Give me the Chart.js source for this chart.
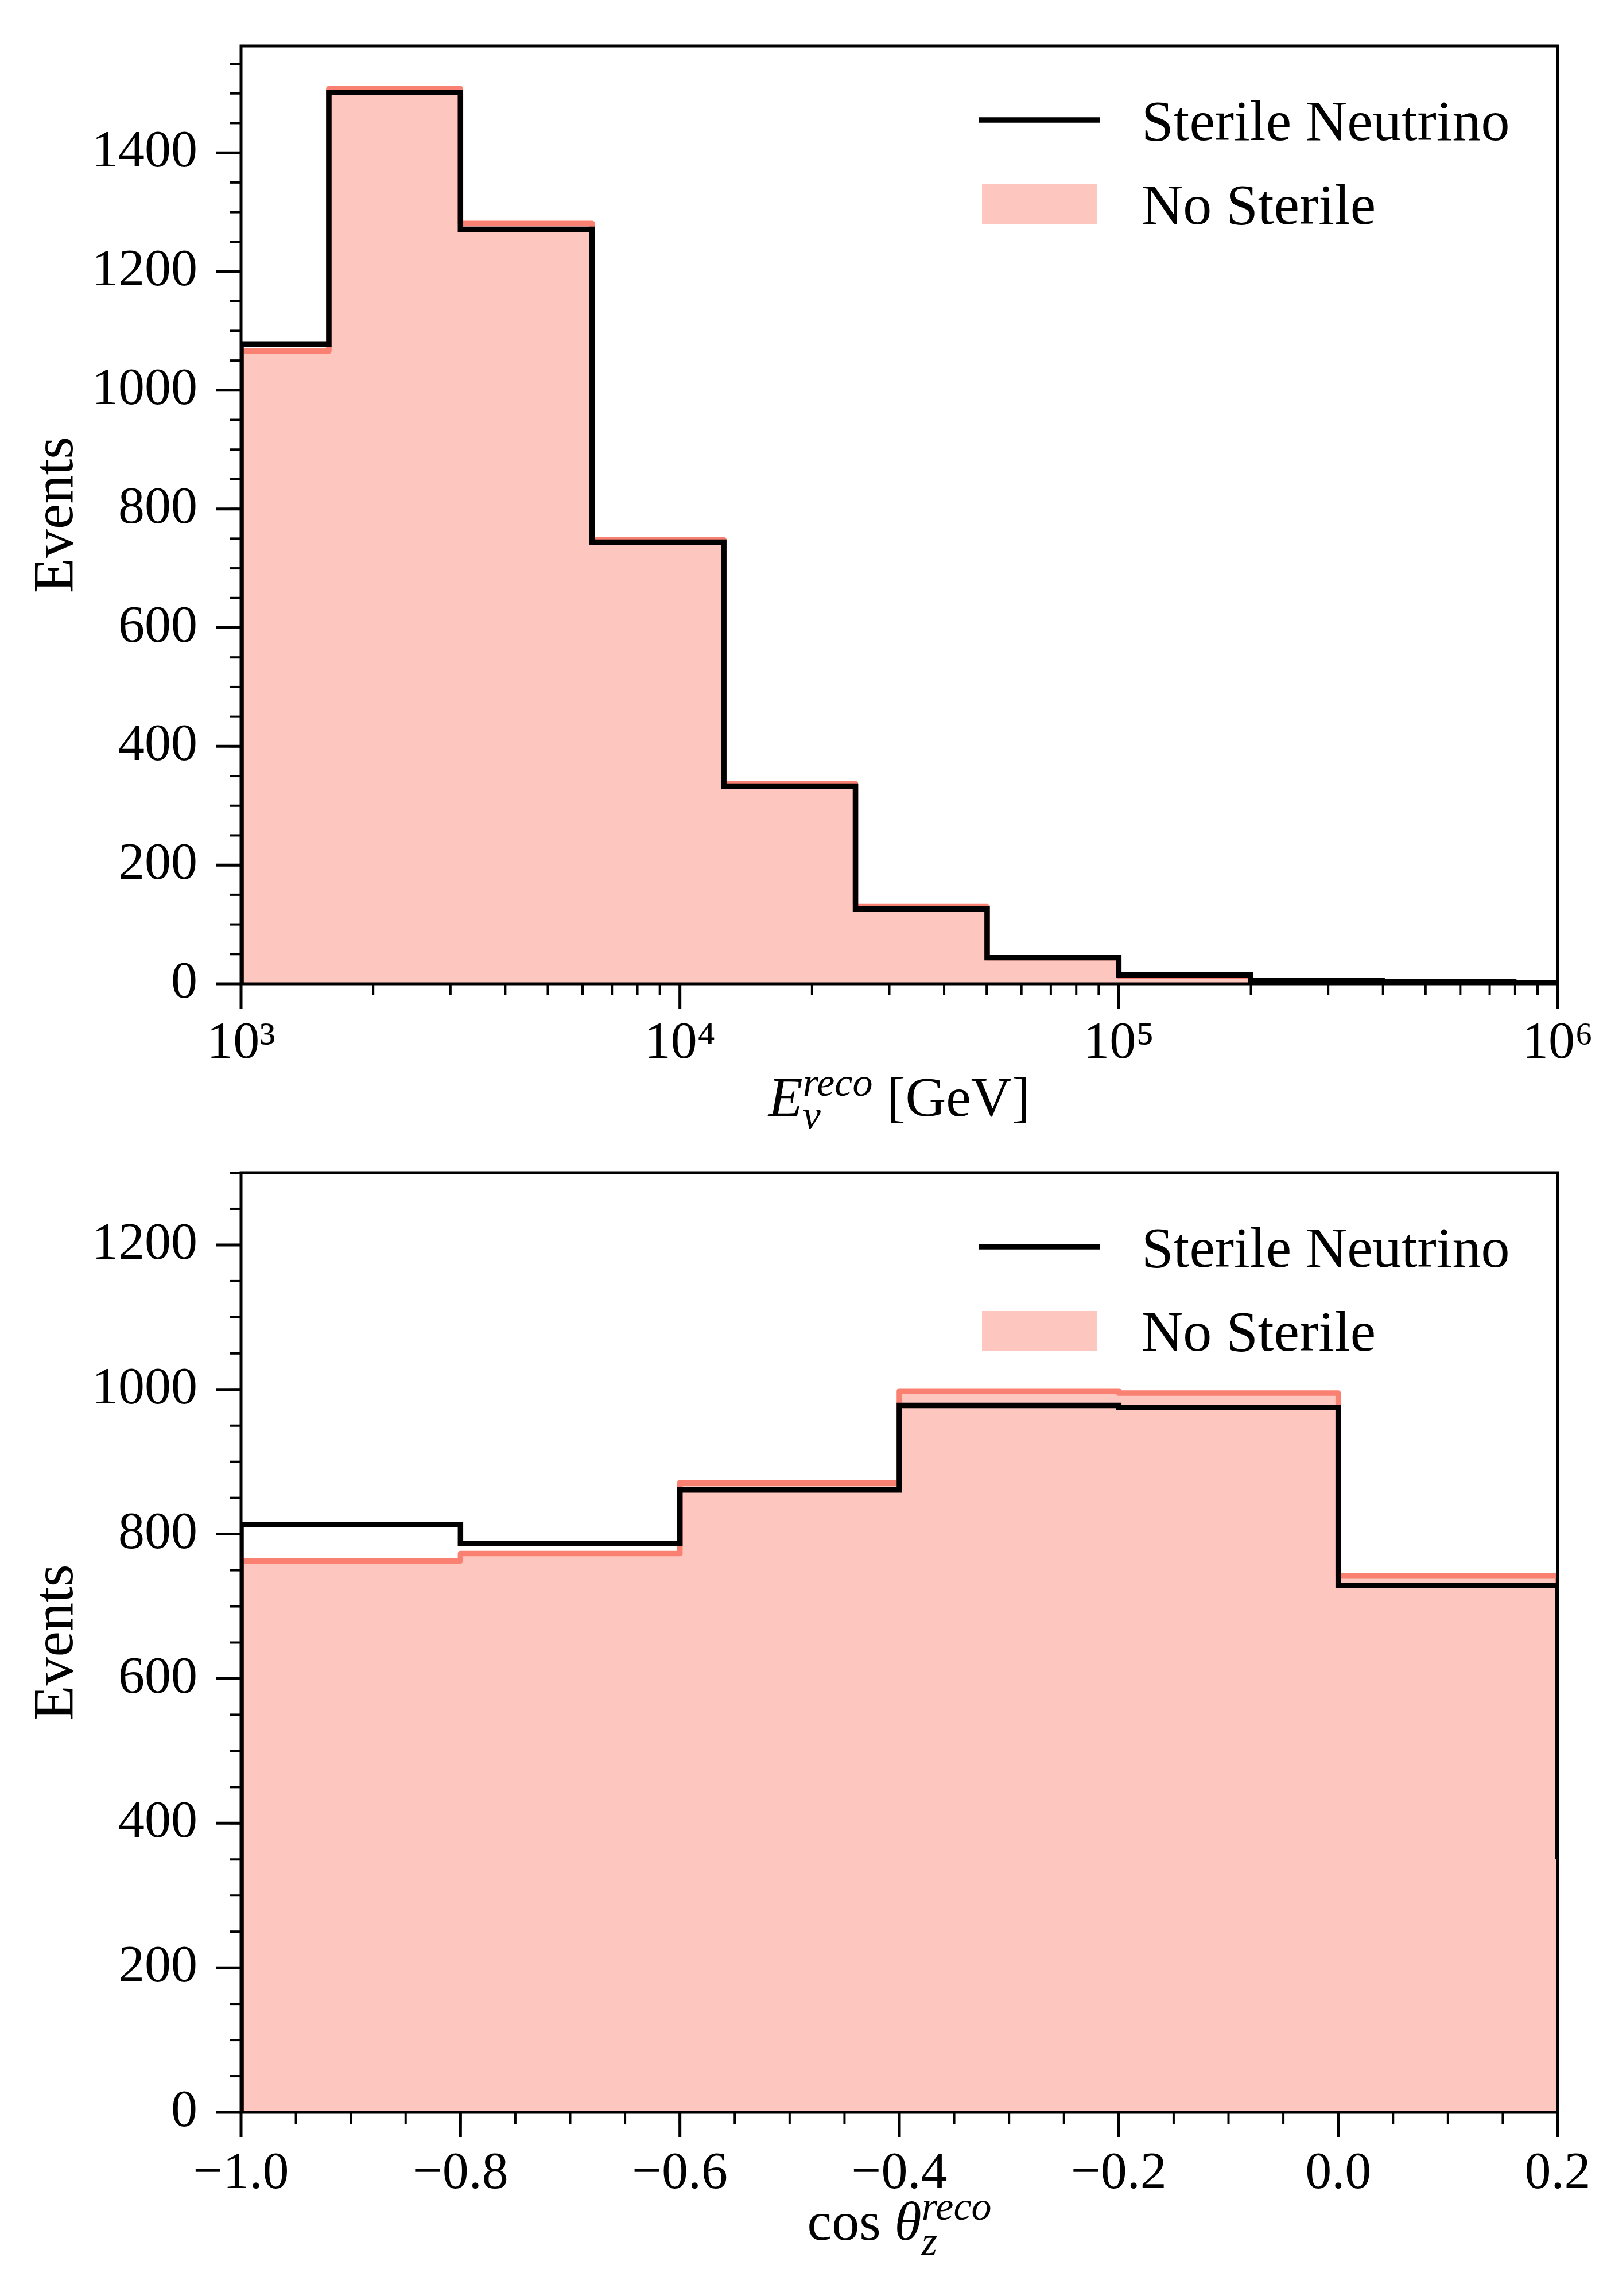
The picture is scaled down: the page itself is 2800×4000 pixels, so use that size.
<!DOCTYPE html>
<html lang="en">
<head>
<meta charset="UTF-8">
<title>Sterile neutrino event histograms</title>
<script src="https://cdn.jsdelivr.net/npm/chart.js"></script>
<style>
  body { margin: 0; background: #fff; }
  .panel { position: absolute; left: 0; width: 2800px; height: 2000px; }
</style>
</head>
<body>
<div class="panel" style="top:0"><canvas id="energyChart" width="2800" height="2000"></canvas></div>
<div class="panel" style="top:2000px"><canvas id="angleChart" width="2800" height="2000"></canvas></div>

<script>
// ---- data ----
const energyEdges = [1000, 1585, 3162, 6310, 12589, 25119, 50119, 100000, 199526, 398107, 794328, 1000000];
const energySterile = [1078, 1502, 1271, 744, 333, 126, 44, 15, 6, 4, 2];
const energyNoSterile = [1066, 1508, 1281, 748, 337, 130, 44, 13, 5, 3, 1.5];
const energyTicks = [1e3, 1e4, 1e5, 1e6];
const energyTickLabels = ['10\u00b3', '10\u2074', '10\u2075', '10\u2076'];
const energyCountTicks = [0, 200, 400, 600, 800, 1000, 1200, 1400];

const angleEdges = [-1.0, -0.8, -0.6, -0.4, -0.2, 0.0, 0.2, 0.4];
const angleSterile = [813, 787, 861, 978, 975, 729, 351];
const angleNoSterile = [763, 773, 871, 998, 995, 742, 355];
const angleTicks = [-1.0, -0.8, -0.6, -0.4, -0.2, 0.0, 0.2];
const angleTickLabels = ['\u22121.0', '\u22120.8', '\u22120.6', '\u22120.4', '\u22120.2', '0.0', '0.2'];
const angleCountTicks = [0, 200, 400, 600, 800, 1000, 1200];

const seriesNames = ['Sterile Neutrino', 'No Sterile'];

const SERIF = "'Liberation Serif', 'DejaVu Serif', serif";
const SALMON = '#fa8072';
const SALMON_FILL = 'rgba(250, 128, 114, 0.45)';

// histogram outline: up at first edge, flat over each bin, down at last edge
function stepPoints(edges, counts) {
    const pts = [{ x: edges[0], y: 0 }];
    counts.forEach((c, i) => pts.push({ x: edges[i], y: c }));
    pts.push({ x: edges[edges.length - 1], y: 0 });
    return pts;
}

function logMinors(from, to) {
    const out = [];
    for (let d = from; d < to; d *= 10) {
        for (let m = 2; m <= 9; m++) out.push(m * d);
    }
    return out;
}

function linMinors(min, max, step) {
    const out = [];
    const n = Math.floor((max - min) / step + 1e-6);
    for (let i = 0; i <= n; i++) out.push(min + i * step);
    return out;
}

// axes frame, outward ticks (major + minor), legend and x title
const decorations = {
    id: 'decorations',
    afterDatasetsDraw(chart, args, opts) {
        const { ctx, chartArea: a, scales: { x, y } } = chart;
        ctx.save();
        ctx.strokeStyle = '#000';
        ctx.lineCap = 'butt';

        const tick = (px, py, dx, dy, w) => {
            ctx.lineWidth = w;
            ctx.beginPath();
            ctx.moveTo(px, py);
            ctx.lineTo(px + dx, py + dy);
            ctx.stroke();
        };
        linMinors(0, y.max, opts.yMinor).forEach(v => tick(a.left, y.getPixelForValue(v), -20, 0, 4));
        y.ticks.forEach(t => tick(a.left, y.getPixelForValue(t.value), -43, 0, 5));
        opts.xMinor.forEach(v => {
            if (v >= x.min && v <= x.max) tick(x.getPixelForValue(v), a.bottom, 0, 20, 4);
        });
        x.ticks.forEach(t => tick(x.getPixelForValue(t.value), a.bottom, 0, 43, 5));

        ctx.lineWidth = 5;
        ctx.strokeRect(a.left, a.top, a.right - a.left, a.bottom - a.top);

        // legend
        const line = chart.data.datasets[0];
        const fill = chart.data.datasets[1];
        ctx.strokeStyle = line.borderColor;
        ctx.lineWidth = line.borderWidth;
        ctx.beginPath();
        ctx.moveTo(a.right - 1008, a.top + 129);
        ctx.lineTo(a.right - 798, a.top + 129);
        ctx.stroke();
        ctx.fillStyle = fill.backgroundColor;
        ctx.fillRect(a.right - 1003, a.top + 241, 200, 69);
        ctx.fillStyle = '#000';
        ctx.font = '100px ' + SERIF;
        ctx.textAlign = 'left';
        ctx.textBaseline = 'alphabetic';
        ctx.fillText(line.label, a.right - 725, a.top + 164);
        ctx.fillText(fill.label, a.right - 725, a.top + 310);

        // x title with sub/superscripts
        const parts = opts.title;
        const fontOf = p => (p.italic ? 'italic ' : '') + p.size + 'px ' + SERIF;
        let total = 0;
        const widths = parts.map(p => {
            const w = Math.max(...p.stack.map(s => { ctx.font = fontOf(s); return ctx.measureText(s.text).width; }));
            total += w;
            return w;
        });
        let cx = (a.left + a.right) / 2 - total / 2;
        const base = a.bottom + opts.titleBaseline;
        parts.forEach((p, i) => {
            p.stack.forEach(s => {
                ctx.font = fontOf(s);
                ctx.fillText(s.text, cx, base + (s.dy || 0));
            });
            cx += widths[i];
        });
        ctx.restore();
    }
};

function makeChart(id, cfg) {
    const datasets = [
        {
            label: seriesNames[0],
            data: stepPoints(cfg.edges, cfg.sterile),
            stepped: 'before',
            borderColor: '#000',
            borderWidth: 9.5,
            borderJoinStyle: 'miter',
            pointRadius: 0,
            fill: false,
            clip: 0
        },
        {
            label: seriesNames[1],
            data: stepPoints(cfg.edges, cfg.noSterile),
            stepped: 'before',
            borderColor: SALMON,
            borderWidth: 9.5,
            borderJoinStyle: 'round',
            backgroundColor: SALMON_FILL,
            pointRadius: 0,
            fill: 'origin',
            clip: 0
        }
    ];

    return new Chart(document.getElementById(id), {
        type: 'line',
        data: { datasets: datasets },
        plugins: [decorations],
        options: {
            responsive: false,
            devicePixelRatio: 1,
            animation: false,
            layout: { padding: { top: cfg.padTop, right: 86, left: 0, bottom: 0 } },
            plugins: {
                legend: { display: false },
                tooltip: { enabled: false },
                decorations: {
                    yMinor: 50,
                    xMinor: cfg.xMinor,
                    title: cfg.title,
                    titleBaseline: cfg.titleBaseline
                }
            },
            scales: {
                x: {
                    type: cfg.xType,
                    min: cfg.xTicks[0],
                    max: cfg.xTicks[cfg.xTicks.length - 1],
                    afterBuildTicks: scale => { scale.ticks = cfg.xTicks.map(v => ({ value: v })); },
                    afterFit: scale => {
                        scale.height = cfg.xAxisHeight;
                        scale.paddingLeft = 0;
                        scale.paddingRight = 0;
                    },
                    grid: { display: false, drawTicks: false },
                    border: { display: false },
                    ticks: {
                        autoSkip: false,
                        maxRotation: 0,
                        padding: cfg.xLabelPad,
                        color: '#000',
                        font: { family: SERIF, size: 92 },
                        callback: value => cfg.xLabels[cfg.xTicks.findIndex(t => Math.abs(t - value) < 1e-9)]
                    }
                },
                y: {
                    type: 'linear',
                    min: 0,
                    max: cfg.yMax,
                    afterBuildTicks: scale => { scale.ticks = cfg.yTicks.map(v => ({ value: v })); },
                    afterFit: scale => {
                        scale.width = 420;
                        scale.paddingTop = 0;
                        scale.paddingBottom = 0;
                    },
                    grid: { display: false, drawTicks: false },
                    border: { display: false },
                    ticks: {
                        padding: 76,
                        color: '#000',
                        font: { family: SERIF, size: 92 },
                        callback: value => String(value)
                    },
                    title: {
                        display: true,
                        text: 'Events',
                        color: '#000',
                        padding: { top: 40, bottom: 0 },
                        font: { family: SERIF, size: 100 }
                    }
                }
            }
        }
    });
}

makeChart('energyChart', {
    edges: energyEdges,
    sterile: energySterile,
    noSterile: energyNoSterile,
    xType: 'logarithmic',
    xTicks: energyTicks,
    xLabels: energyTickLabels,
    xMinor: logMinors(1e3, 1e6),
    yTicks: energyCountTicks,
    yMax: 1580,
    padTop: 80,
    xAxisHeight: 286,
    xLabelPad: 50,
    titleBaseline: 230,
    title: [
        { stack: [{ text: 'E', size: 98, italic: true }] },
        { stack: [{ text: 'reco', size: 70, italic: true, dy: -35 }, { text: '\u03bd', size: 70, italic: true, dy: 22 }] },
        { stack: [{ text: ' [GeV]', size: 98 }] }
    ]
});

makeChart('angleChart', {
    edges: angleEdges,
    sterile: angleSterile,
    noSterile: angleNoSterile,
    xType: 'linear',
    xTicks: angleTicks,
    xLabels: angleTickLabels,
    xMinor: linMinors(-1.0, 0.2, 0.05),
    yTicks: angleCountTicks,
    yMax: 1300,
    padTop: 43,
    xAxisHeight: 320,
    xLabelPad: 53,
    titleBaseline: 222,
    title: [
        { stack: [{ text: 'cos ', size: 96 }] },
        { stack: [{ text: '\u03b8', size: 96, italic: true }] },
        { stack: [{ text: 'reco', size: 70, italic: true, dy: -35 }, { text: 'z', size: 70, italic: true, dy: 26 }] }
    ]
});
</script>
</body>
</html>
